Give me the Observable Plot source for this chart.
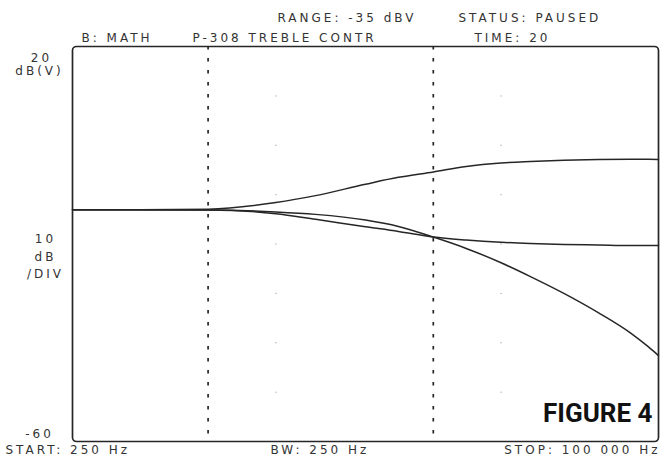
<!DOCTYPE html>
<html>
<head>
<meta charset="utf-8">
<script src="https://cdn.jsdelivr.net/npm/d3@7"></script>
<script src="https://cdn.jsdelivr.net/npm/@observablehq/plot@0.6"></script>
<style>
  html, body { margin: 0; padding: 0; background: #fff; }
  svg { display: block; }
</style>
</head>
<body>
<div id="chart"></div>
<script>
// Frequencies (Hz) sampled along the traces
const freq  = [250, 500, 1000, 2000, 3000, 5000, 7000, 10000, 14000, 20000, 27000, 38000, 54000, 75000, 90000, 100000];
// Trace levels (dBV)
const boost = [-13.07, -13.07, -12.95, -11.6, -10.2, -7.9, -6.5, -5.4, -4.3, -3.6, -3.3, -3.05, -2.9, -2.85, -2.85, -2.9];
const shelf = [-13.07, -13.07, -13.1, -13.85, -15.0, -16.5, -17.45, -18.6, -19.2, -19.65, -19.9, -20.1, -20.2, -20.3, -20.3, -20.3];
const steep = [-13.07, -13.07, -13.1, -13.5, -14.0, -15.15, -16.45, -18.6, -20.9, -23.8, -26.6, -30.0, -33.9, -38.0, -40.8, -42.6];
// Markers and grid
const markerFreqs = [1000, 10000];
const gridFreqs = [2000, 20000];
const gridLevels = [10, 0, -10, -20, -30, -40, -50];
// Texts
const headerTop = ["RANGE: -35 dBV", "STATUS: PAUSED"];
const headerBottom = ["B: MATH", "P-308 TREBLE CONTR", "TIME: 20"];
const footer = ["START: 250 Hz", "BW: 250 Hz", "STOP: 100 000 Hz"];
const yTop = 20, yBottom = -60;
const figTitle = "FIGURE 4";

const series = [boost, shelf, steep].map(vals => freq.map((f, i) => ({f, db: vals[i]})));
const grid = gridFreqs.flatMap(f => gridLevels.map(l => ({f, l})));

const font = "'DejaVu Sans', sans-serif";
const ink = "#262626";
const label = (txt, opts) => Plot.text([txt], {text: d => d, fontFamily: font, fontSize: 12, fill: "#333", ...opts});

const chart = Plot.plot({
  width: 665,
  height: 462,
  marginLeft: 72,
  marginRight: 7,
  marginTop: 46,
  marginBottom: 21,
  x: {type: "log", domain: [250, 100000], axis: null},
  y: {domain: [yBottom, yTop], axis: null},
  style: {background: "#fff", overflow: "visible"},
  marks: [
    Plot.dot(grid, {x: "f", y: "l", r: 0.7, fill: "#aaa", stroke: "none"}),
    Plot.ruleX(markerFreqs, {stroke: ink, strokeWidth: 1.7, strokeDasharray: "3.5,8.5"}),
    Plot.frame({stroke: ink, strokeWidth: 1.7, rx: 4}),
    ...series.map(s => Plot.line(s, {x: "f", y: "db", curve: "monotone-x", stroke: ink, strokeWidth: 1.5})),
    label(headerTop[0], {frameAnchor: "top-left", dx: 205, dy: -33, textAnchor: "start"}),
    label(headerTop[1], {frameAnchor: "top-left", dx: 386, dy: -33, textAnchor: "start"}),
    label(headerBottom[0], {frameAnchor: "top-left", dx: 9, dy: -13, textAnchor: "start"}),
    label(headerBottom[1], {frameAnchor: "top-left", dx: 120, dy: -13, textAnchor: "start"}),
    label(headerBottom[2], {frameAnchor: "top-left", dx: 402, dy: -13, textAnchor: "start"}),
    label(footer[0], {frameAnchor: "bottom-left", dx: -67, dy: 12, textAnchor: "start"}),
    label(footer[1], {frameAnchor: "bottom-left", dx: 198, dy: 12, textAnchor: "start"}),
    label(footer[2], {frameAnchor: "bottom-right", dx: 2, dy: 12, textAnchor: "end"}),
    label(String(yTop), {frameAnchor: "top-left", dx: -31, dy: 7, textAnchor: "middle"}),
    label("dB(V)", {frameAnchor: "top-left", dx: -33, dy: 20, textAnchor: "middle"}),
    label("10\ndB\n/DIV", {frameAnchor: "left", dx: -27, dy: 11, textAnchor: "middle", lineHeight: 1.45}),
    label(String(yBottom), {frameAnchor: "bottom-left", dx: -33, dy: -4, textAnchor: "middle"}),
    Plot.text([figTitle], {text: d => d, frameAnchor: "bottom-right", dx: -6, dy: -20, textAnchor: "end",
      fontFamily: "'Liberation Sans Narrow', 'Roboto', sans-serif", fontWeight: "bold", fontSize: 26, fill: "#111"})
  ]
});
// plotter-style wide lettering for the instrument texts
d3.select(chart).selectAll("text")
  .filter(function() { return this.textContent !== figTitle; })
  .style("letter-spacing", "3px");
document.getElementById("chart").appendChild(chart);
</script>
</body>
</html>
